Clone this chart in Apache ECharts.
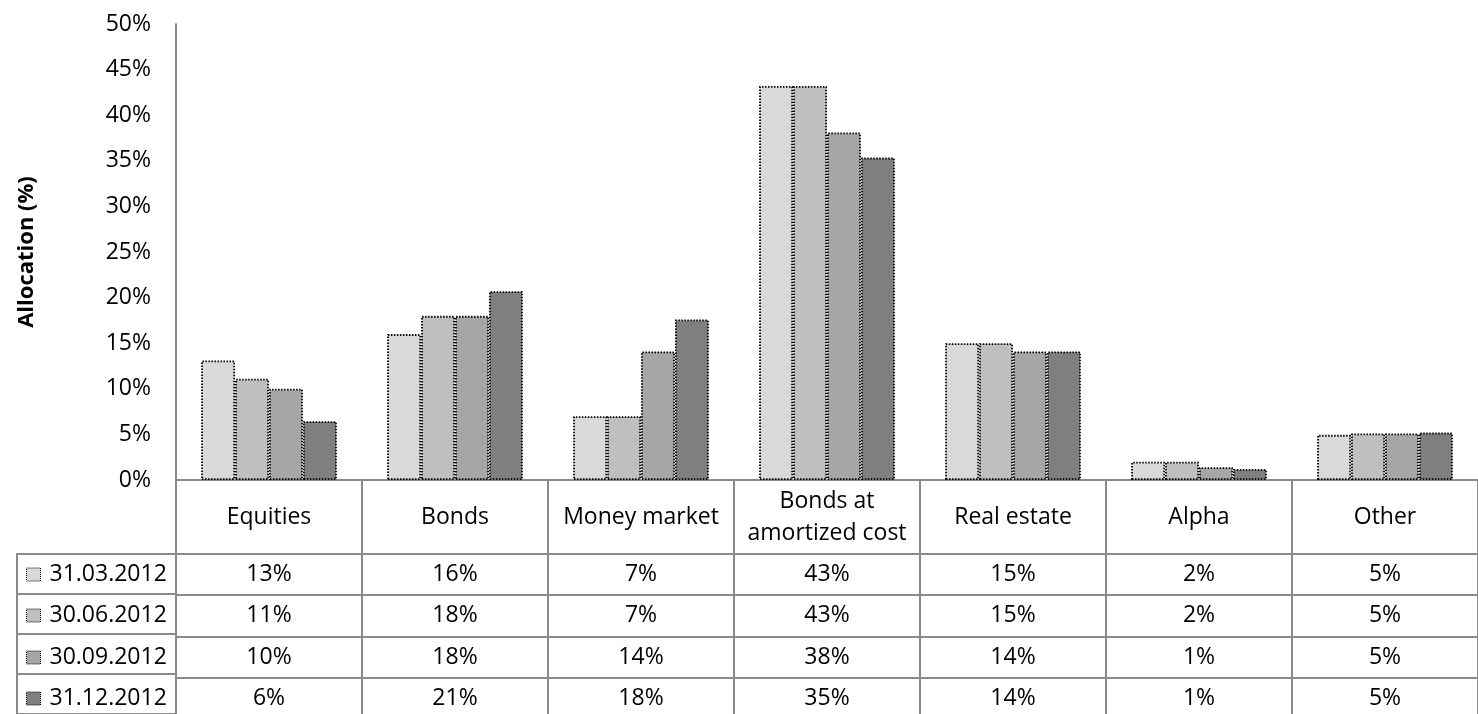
<!DOCTYPE html>
<html>
<head>
<meta charset="utf-8">
<script src="https://cdn.jsdelivr.net/npm/echarts@6/dist/echarts.min.js"></script>
<style>
html,body{margin:0;padding:0;background:#fff;}
#chart{width:1478px;height:714px;}
</style>
</head>
<body>
<div id="chart"></div>
<script>
// ---- data ----
var categories = ['Equities', 'Bonds', 'Money market', 'Bonds at\namortized cost', 'Real estate', 'Alpha', 'Other'];
var seriesNames = ['31.03.2012', '30.06.2012', '30.09.2012', '31.12.2012'];
var q1 = [13.1, 16.0, 7.0, 43.2, 15.0, 2.0, 4.95];
var q2 = [11.1, 18.0, 7.0, 43.2, 15.0, 2.0, 5.1];
var q3 = [10.0, 18.0, 14.1, 38.1, 14.1, 1.4, 5.1];
var q4 = [6.45, 20.7, 17.6, 35.35, 14.1, 1.2, 5.2];
var yTicks = { min: 0, max: 50, interval: 5 };
var yTitle = 'Allocation (%)';

// ---- styling ----
var FONT = 'Open Sans';
var FS = 23;
var barColors = ['#D9D9D9', '#BFBFBF', '#A6A6A6', '#7F7F7F'];
var lineColor = '#8a8a8a';
var allSeries = [q1, q2, q3, q4];
var headerH = 74;
var rowH = 41.3;

var chart = echarts.init(document.getElementById('chart'), null, { renderer: 'canvas' });

var xAxes = [{
  type: 'category', gridIndex: 0, data: categories, position: 'bottom',
  axisLine: { show: true, lineStyle: { color: lineColor, width: 2 } },
  axisTick: { show: true, alignWithLabel: false, interval: 0, length: headerH, lineStyle: { color: lineColor, width: 2 } },
  axisLabel: { interval: 0, margin: 37, verticalAlign: 'middle', lineHeight: 32, fontFamily: FONT, fontSize: FS, color: '#000' }
}];
allSeries.forEach(function (arr, i) {
  xAxes.push({
    type: 'category', gridIndex: 0, data: categories, position: 'bottom',
    offset: Math.round(headerH + i * rowH),
    axisLine: { show: true, lineStyle: { color: lineColor, width: 2 } },
    axisTick: { show: true, alignWithLabel: false, interval: 0, length: Math.round(rowH), lineStyle: { color: lineColor, width: 2 } },
    axisLabel: {
      interval: 0, margin: rowH / 2, verticalAlign: 'middle', fontFamily: FONT, fontSize: FS, color: '#000',
      formatter: function (v, idx) { return Math.round(arr[idx]) + '%'; }
    }
  });
});
xAxes.push({ type: 'value', gridIndex: 1, show: false });

var series = allSeries.map(function (arr, i) {
  return {
    name: seriesNames[i], type: 'bar', xAxisIndex: 0, yAxisIndex: 0,
    data: arr, barGap: '0%', barCategoryGap: '27%',
    itemStyle: { color: barColors[i], borderColor: '#000', borderWidth: 1.8, borderType: [1.5, 1.5] },
    emphasis: { disabled: true }
  };
});

var legends = seriesNames.map(function (n, i) {
  return {
    orient: 'vertical', left: 26, top: Math.round(563 + i * rowH), padding: 0,
    icon: 'rect', itemWidth: 14, itemHeight: 13,
    selectedMode: false,
    data: [n],
    itemStyle: { borderColor: '#000', borderWidth: 1, borderType: [1, 1] },
    textStyle: { fontFamily: FONT, fontSize: FS, color: '#000', lineHeight: 20, padding: [0, 0, 0, 4] }
  };
});

chart.setOption({
  animation: false,
  backgroundColor: '#fff',
  textStyle: { fontFamily: FONT },
  grid: [
    { left: 176, top: 24, bottom: 234, right: -14 },
    { left: 17, top: 554, width: 159, height: 165 }
  ],
  legend: legends,
  xAxis: xAxes,
  yAxis: [{
    type: 'value', gridIndex: 0, min: yTicks.min, max: yTicks.max, interval: yTicks.interval,
    axisLine: { show: true, lineStyle: { color: lineColor, width: 2 } },
    axisTick: { show: false },
    splitLine: { show: false },
    axisLabel: { margin: 25, fontFamily: FONT, fontSize: FS, color: '#000', formatter: '{value}%' },
    name: yTitle, nameLocation: 'middle', nameRotate: 90, nameGap: 138,
    nameTextStyle: { fontFamily: FONT, fontSize: 22, fontWeight: 'bold', color: '#000' }
  }, {
    type: 'category', gridIndex: 1, data: seriesNames, inverse: true,
    axisLine: { show: true, lineStyle: { color: lineColor, width: 2 } },
    axisTick: { show: false },
    axisLabel: { show: false },
    splitLine: { show: true, lineStyle: { color: lineColor, width: 2 } }
  }],
  series: series
});
</script>
</body>
</html>
